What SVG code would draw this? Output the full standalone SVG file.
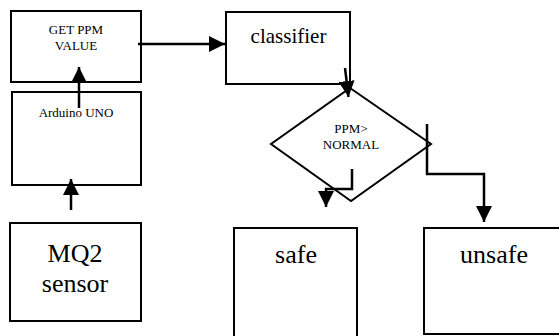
<svg xmlns="http://www.w3.org/2000/svg" width="559" height="336" viewBox="0 0 559 336">
<style>
.box{fill:#fff;stroke:#000;stroke-width:2}
text{font-family:'Liberation Serif','DejaVu Serif',serif;fill:#000;text-anchor:middle}
.c{fill:none;stroke:#000;stroke-width:2.5}
</style>
<defs>
<marker id="ah" viewBox="0 0 10 10" refX="10" refY="5" markerWidth="6.4" markerHeight="6.4" markerUnits="strokeWidth" orient="auto">
<path d="M0,0 L10,5 L0,10 Z" fill="#000"/>
</marker>
</defs>
<rect width="559" height="336" fill="#fff"/>
<g id="get-ppm">
<rect class="box" x="11" y="11" width="130" height="71"/>
<text x="76" y="34" font-size="13">GET PPM</text>
<text x="76" y="50" font-size="13">VALUE</text>
</g>
<g id="arduino">
<rect class="box" x="12" y="92" width="129" height="93"/>
<text x="76" y="117" font-size="13">Arduino UNO</text>
</g>
<g id="mq2">
<rect class="box" x="10" y="223" width="131" height="98"/>
<text x="75" y="262" font-size="26">MQ2</text>
<text x="75" y="292" font-size="26">sensor</text>
</g>
<g id="classifier">
<rect class="box" x="226" y="12" width="124" height="72"/>
<text x="288.5" y="43" font-size="21">classifier</text>
</g>
<g id="decision">
<polygon points="350,88 431,144 351,201 271,144" fill="#fff" stroke="#000" stroke-width="2"/>
<text x="351" y="133" font-size="13">PPM&gt;</text>
<text x="351" y="149" font-size="13">NORMAL</text>
</g>
<g id="safe">
<rect class="box" x="234" y="228" width="123" height="112"/>
<text x="296" y="263" font-size="26">safe</text>
</g>
<g id="unsafe">
<rect class="box" x="424" y="228" width="140" height="106"/>
<text x="494" y="263" font-size="26">unsafe</text>
</g>
<g id="connectors">
<path class="c" d="M79,108 V67" marker-end="url(#ah)"/>
<path class="c" d="M71,210 V179" marker-end="url(#ah)"/>
<path class="c" d="M138,44 H225" marker-end="url(#ah)"/>
<path class="c" d="M345,68 L348.5,97" marker-end="url(#ah)"/>
<path class="c" d="M427,124 V174 H484 V222" marker-end="url(#ah)"/>
<path class="c" d="M352,169 V189 H326 V207" marker-end="url(#ah)"/>
</g>
</svg>
